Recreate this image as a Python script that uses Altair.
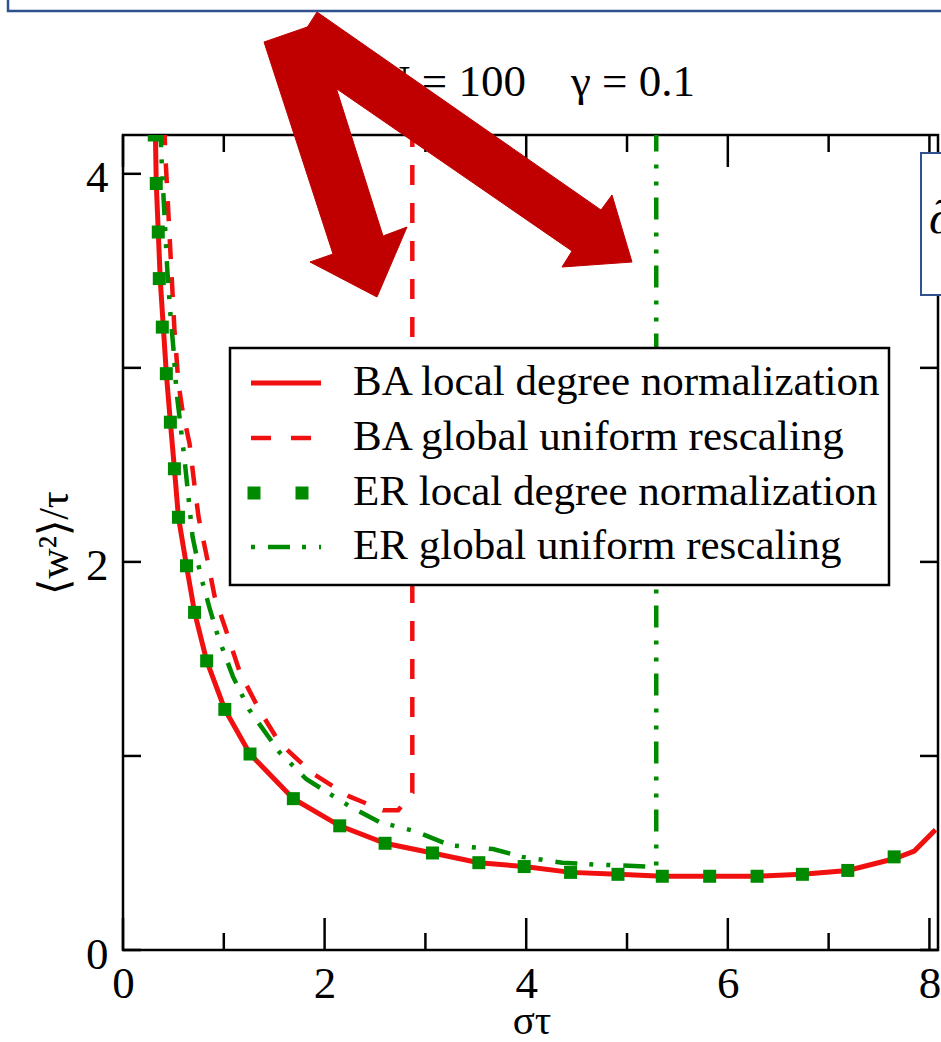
import altair as alt
import pandas as pd

# ---------------- data ----------------
ba_local_x = [0.32, 0.33, 0.35, 0.37, 0.40, 0.43, 0.47, 0.51, 0.55, 0.63, 0.71, 0.83, 1.01, 1.26, 1.69,
              2.15, 2.60, 3.07, 3.53, 3.98, 4.44, 4.91, 5.35, 5.82, 6.29, 6.74, 7.19, 7.65, 7.85, 8.06]
ba_local_y = [4.25, 3.95, 3.70, 3.45, 3.21, 2.97, 2.72, 2.48, 2.23, 1.98, 1.74, 1.49, 1.24, 1.01, 0.78,
              0.64, 0.55, 0.50, 0.45, 0.43, 0.40, 0.39, 0.38, 0.38, 0.38, 0.39, 0.41, 0.47, 0.51, 0.62]

ba_global_x = [0.41, 0.42, 0.45, 0.48, 0.51, 0.55, 0.59, 0.66, 0.71, 0.75, 0.83, 0.91, 1.02, 1.16, 1.35,
               1.55, 1.88, 2.25, 2.58, 2.73, 2.87, 2.87]
ba_global_y = [4.25, 4.10, 3.80, 3.50, 3.20, 2.92, 2.78, 2.61, 2.39, 2.23, 2.03, 1.82, 1.65, 1.43, 1.24,
               1.07, 0.91, 0.79, 0.72, 0.72, 0.81, 4.30]

er_local_x = [0.31, 0.33, 0.35, 0.36, 0.39, 0.43, 0.47, 0.51, 0.55, 0.63, 0.71, 0.83, 1.01, 1.26, 1.69,
              2.15, 2.60, 3.07, 3.53, 3.98, 4.44, 4.91, 5.35, 5.82, 6.29, 6.74, 7.19, 7.65]
er_local_y = [4.20, 3.95, 3.70, 3.46, 3.21, 2.97, 2.72, 2.48, 2.23, 1.98, 1.74, 1.49, 1.24, 1.01, 0.78,
              0.64, 0.55, 0.50, 0.45, 0.43, 0.40, 0.39, 0.38, 0.38, 0.38, 0.39, 0.41, 0.48]

er_global_x = [0.37, 0.38, 0.41, 0.44, 0.47, 0.50, 0.53, 0.61, 0.69, 0.77, 0.86, 0.94, 1.09, 1.25, 1.55,
               1.82, 2.25, 2.54, 2.91, 3.24, 3.67, 3.96, 4.36, 4.70, 5.22, 5.29, 5.29]
er_global_y = [4.25, 4.10, 3.80, 3.50, 3.28, 3.10, 2.88, 2.53, 2.13, 1.93, 1.76, 1.62, 1.41, 1.24, 1.02,
               0.88, 0.74, 0.66, 0.61, 0.54, 0.52, 0.48, 0.45, 0.44, 0.43, 0.43, 4.30]

x_major = [0, 2, 4, 6, 8]
x_minor = [1, 3, 5, 7]
y_major = [0, 2, 4]
y_minor = [1, 3]

legend_labels = ["BA local degree normalization", "BA global uniform rescaling",
                 "ER local degree normalization", "ER global uniform rescaling"]
title_text = "N = 100\u00a0\u00a0\u00a0\u00a0γ = 0.1"
x_title = "στ"
y_title = "⟨w²⟩/τ"

# annotation arrows (page pixel coordinates of the overlay polygons)
arrow_a_px = [264, 316, 383, 407, 377, 310, 333]
arrow_a_py = [42, 24, 236, 227, 297, 262, 254]
arrow_b_px = [317, 601, 612, 632, 562, 572, 289]
arrow_b_py = [12, 210, 195, 262, 267, 251, 56]

# ---------------- styling ----------------
RED = "#F01010"
GREEN = "#008A00"
ARROW = "#C00000"
BOX = "#2F528F"
FONT = "Liberation Serif, Times New Roman, serif"
W, H = 815, 815
X_MAX, Y_MAX = 8.085, 4.2
OX, OY = 123, 135  # plot origin in page pixels

xs = alt.Scale(domain=[0, X_MAX], nice=False, zero=False)
ys = alt.Scale(domain=[0, Y_MAX], nice=False, zero=False)
x_axis = alt.Axis(values=x_major, title=None, grid=False, domain=False, ticks=False, tickSize=0,
                  labelFont=FONT, labelFontSize=45, labelColor="black", labelPadding=11,
                  labelFlush=False, labelOverlap=False, labelBound=False)
y_axis = alt.Axis(values=y_major, title=None, grid=False, domain=False, ticks=False, tickSize=0,
                  labelFont=FONT, labelFontSize=45, labelColor="black", labelPadding=15,
                  labelOffset=4, labelFlush=False, labelOverlap=False, labelBound=False)


def sdf(xv, yv):
    return pd.DataFrame({"x": xv, "y": yv, "i": list(range(len(xv)))})


def enc_xy():
    return dict(x=alt.X("x:Q", scale=xs, axis=x_axis), y=alt.Y("y:Q", scale=ys, axis=y_axis),
                order=alt.Order("i:Q"))


ba_local = alt.Chart(sdf(ba_local_x, ba_local_y)).mark_line(
    color=RED, strokeWidth=5, clip=True).encode(**enc_xy())
ba_global = alt.Chart(sdf(ba_global_x, ba_global_y)).mark_line(
    color=RED, strokeWidth=4.5, strokeDash=[20, 18], clip=True).encode(**enc_xy())
er_global = alt.Chart(sdf(er_global_x, er_global_y)).mark_line(
    color=GREEN, strokeWidth=4.5, strokeDash=[22, 12, 4, 13, 4, 13], clip=True).encode(**enc_xy())
er_local = alt.Chart(sdf(er_local_x, er_local_y)).mark_square(
    color=GREEN, size=169, opacity=1, clip=True).encode(
    x=alt.X("x:Q", scale=xs, axis=x_axis), y=alt.Y("y:Q", scale=ys, axis=y_axis))


def xticks(vals, length):
    d = pd.DataFrame({"t": vals})
    xe = alt.X("t:Q", scale=xs, axis=x_axis)
    bottom = alt.Chart(d).mark_rule(color="black", strokeWidth=2.5).encode(
        x=xe, y=alt.value(H), y2=alt.value(H - length))
    top = alt.Chart(d).mark_rule(color="black", strokeWidth=2.5).encode(
        x=xe, y=alt.value(0), y2=alt.value(length))
    return [bottom, top]


def yticks(vals, length):
    d = pd.DataFrame({"t": vals})
    ye = alt.Y("t:Q", scale=ys, axis=y_axis)
    left = alt.Chart(d).mark_rule(color="black", strokeWidth=2.5).encode(
        y=ye, x=alt.value(0), x2=alt.value(length))
    right = alt.Chart(d).mark_rule(color="black", strokeWidth=2.5).encode(
        y=ye, x=alt.value(W), x2=alt.value(W - length))
    return [left, right]


ticks = xticks(x_major, 32) + xticks(x_minor, 17) + yticks(y_major, 18) + yticks(y_minor, 18)

data_layer = alt.layer(ba_local, ba_global, er_global, er_local, *ticks)

# ---------------- overlay (pixel space) ----------------
pxs = alt.Scale(domain=[0, W], range=[0, W], nice=False, zero=False)
pys = alt.Scale(domain=[0, H], range=[0, H], nice=False, zero=False)

one = pd.DataFrame({"a": [0]})

# legend
leg_rows_y = [383, 438, 493, 547]
legend_box = alt.Chart(one).mark_rect(
    fill="white", stroke="black", strokeWidth=2.5).encode(
    x=alt.value(230 - OX), x2=alt.value(889 - OX), y=alt.value(348 - OY), y2=alt.value(585 - OY))

leg1 = alt.Chart(one).mark_rule(color=RED, strokeWidth=5).encode(
    x=alt.value(251 - OX), x2=alt.value(321 - OX), y=alt.value(leg_rows_y[0] - OY))
leg2 = alt.Chart(one).mark_rule(color=RED, strokeWidth=4.5, strokeDash=[20, 20]).encode(
    x=alt.value(251 - OX), x2=alt.value(321 - OX), y=alt.value(leg_rows_y[1] - OY))
leg3 = alt.Chart(pd.DataFrame({"px": [254 - OX, 302 - OX], "py": [leg_rows_y[2] - OY] * 2})).mark_square(
    color=GREEN, size=169, opacity=1).encode(
    x=alt.X("px:Q", scale=pxs, axis=None), y=alt.Y("py:Q", scale=pys, axis=None))
leg4 = alt.Chart(one).mark_rule(color=GREEN, strokeWidth=4.5, strokeDash=[22, 12, 4, 13, 4, 13],
                                strokeDashOffset=51).encode(
    x=alt.value(251 - OX), x2=alt.value(321 - OX), y=alt.value(leg_rows_y[3] - OY))

leg_text = alt.Chart(pd.DataFrame({
    "label": legend_labels,
    "px": [353 - OX] * 4,
    "py": [r + 12 - OY for r in leg_rows_y],
})).mark_text(align="left", baseline="alphabetic", font=FONT, fontSize=43, color="black").encode(
    x=alt.X("px:Q", scale=pxs, axis=None), y=alt.Y("py:Q", scale=pys, axis=None), text="label:N")

title = alt.Chart(one).mark_text(align="left", baseline="alphabetic", font=FONT, fontSize=45,
                                 color="black", text=title_text).encode(
    x=alt.value(378 - OX), y=alt.value(96 - OY))
xt = alt.Chart(one).mark_text(align="center", baseline="alphabetic", font=FONT, fontSize=41,
                              color="black", text=x_title).encode(
    x=alt.value(532 - OX), y=alt.value(1034 - OY))
yt = alt.Chart(one).mark_text(align="center", baseline="alphabetic", font=FONT, fontSize=42,
                              color="black", angle=270, text=y_title).encode(
    x=alt.value(68 - OX), y=alt.value(543 - OY))

arrows_df = pd.DataFrame({
    "px": [v - OX for v in arrow_a_px] + [v - OX for v in arrow_b_px],
    "py": [v - OY for v in arrow_a_py] + [v - OY for v in arrow_b_py],
    "arrow": ["a"] * len(arrow_a_px) + ["b"] * len(arrow_b_px),
    "i": list(range(len(arrow_a_px))) + list(range(len(arrow_b_px))),
})
arrows = alt.Chart(arrows_df).mark_line(fill=ARROW, stroke=ARROW, strokeWidth=1, clip=False,
                                        interpolate="linear-closed").encode(
    x=alt.X("px:Q", scale=pxs, axis=None), y=alt.Y("py:Q", scale=pys, axis=None),
    detail="arrow:N", order=alt.Order("i:Q"))

top_box = alt.Chart(one).mark_rect(fill="white", stroke=BOX, strokeWidth=2.5).encode(
    x=alt.value(8 - OX), x2=alt.value(960 - OX), y=alt.value(-40 - OY), y2=alt.value(11 - OY))
right_box = alt.Chart(one).mark_rect(fill="white", stroke=BOX, strokeWidth=2).encode(
    x=alt.value(921 - OX), x2=alt.value(970 - OX), y=alt.value(153 - OY), y2=alt.value(295 - OY))
partial = alt.Chart(one).mark_text(align="left", baseline="alphabetic", font=FONT, fontSize=46,
                                   fontStyle="italic", color="black", text="∂").encode(
    x=alt.value(929 - OX), y=alt.value(233 - OY))

overlay = alt.layer(legend_box, leg1, leg2, leg3, leg4, leg_text, title, xt, yt,
                    arrows, top_box, right_box, partial)

chart = alt.layer(data_layer, overlay).resolve_scale(x="independent", y="independent").properties(
    width=W, height=H,
    padding={"left": OX, "top": OY, "right": 941 - OX - W, "bottom": 1042 - OY - H},
    autosize=alt.AutoSizeParams(type="none"),
    background="white",
).configure_view(stroke="black", strokeWidth=2.5)

chart.save("out.html", embed_options={"renderer": "svg", "actions": False})
